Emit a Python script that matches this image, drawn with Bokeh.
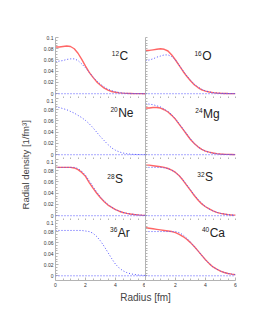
import math
from bokeh.plotting import figure
from bokeh.layouts import row, column
from bokeh.models import Range1d, FixedTicker, Span, Label
from bokeh.core.properties import value
from bokeh.embed import file_html
from bokeh.resources import INLINE

# ---------------- data ----------------
radius = [0.0, 0.25, 0.5, 0.75, 1.0, 1.25, 1.5, 1.75, 2.0, 2.25, 2.5, 2.75, 3.0,
          3.25, 3.5, 3.75, 4.0, 4.25, 4.5, 4.75, 5.0, 5.25, 5.5, 5.75, 6.0]

mass_numbers = ["12", "16", "20", "24", "28", "32", "36", "40"]
elements = ["C", "O", "Ne", "Mg", "S", "S", "Ar", "Ca"]

c12_red = [0.083, 0.083, 0.084, 0.085, 0.084, 0.080, 0.072, 0.061, 0.049, 0.038, 0.029, 0.021, 0.015,
           0.010, 0.0065, 0.004, 0.0025, 0.0015, 0.001, 0.0006, 0.0004, 0.0002, 0.0001, 0.0001, 0.0]
c12_blue = [0.057, 0.058, 0.059, 0.061, 0.062, 0.062, 0.059, 0.053, 0.046, 0.038, 0.030, 0.023, 0.017,
            0.012, 0.008, 0.0055, 0.0035, 0.0022, 0.0014, 0.0009, 0.0005, 0.0003, 0.0002, 0.0001, 0.0]

o16_red = [0.077, 0.077, 0.078, 0.079, 0.080, 0.079, 0.076, 0.069, 0.060, 0.050, 0.040, 0.031, 0.023,
           0.016, 0.011, 0.007, 0.0045, 0.003, 0.002, 0.0013, 0.0008, 0.0005, 0.0003, 0.0002, 0.0001]
o16_blue = [0.059, 0.060, 0.062, 0.065, 0.067, 0.069, 0.069, 0.066, 0.060, 0.051, 0.041, 0.032, 0.024,
            0.017, 0.012, 0.008, 0.005, 0.0032, 0.002, 0.0013, 0.0008, 0.0005, 0.0003, 0.0002, 0.0001]

ne20_blue = [0.085, 0.084, 0.082, 0.080, 0.077, 0.074, 0.070, 0.066, 0.061, 0.055, 0.048, 0.040, 0.032,
             0.025, 0.018, 0.012, 0.008, 0.005, 0.003, 0.0018, 0.001, 0.0006, 0.0003, 0.0002, 0.0001]

mg24_red = [0.083, 0.083, 0.084, 0.084, 0.083, 0.080, 0.076, 0.070, 0.063, 0.054, 0.045, 0.036, 0.027,
            0.020, 0.014, 0.0095, 0.0065, 0.0045, 0.003, 0.002, 0.0014, 0.0009, 0.0006, 0.0004, 0.0002]
mg24_blue = [0.091, 0.090, 0.089, 0.087, 0.085, 0.081, 0.077, 0.071, 0.064, 0.055, 0.046, 0.037, 0.028,
             0.020, 0.014, 0.0095, 0.0062, 0.004, 0.0026, 0.0016, 0.001, 0.0006, 0.0004, 0.0002, 0.0001]

s28_red = [0.086, 0.086, 0.086, 0.086, 0.086, 0.085, 0.082, 0.077, 0.070, 0.059, 0.049, 0.040, 0.032,
           0.025, 0.019, 0.015, 0.011, 0.008, 0.0058, 0.0042, 0.003, 0.0021, 0.0015, 0.001, 0.0006]
s28_blue = [0.086, 0.086, 0.086, 0.086, 0.086, 0.086, 0.084, 0.079, 0.072, 0.062, 0.052, 0.042, 0.033,
            0.026, 0.020, 0.015, 0.011, 0.008, 0.0058, 0.0042, 0.003, 0.0021, 0.0015, 0.001, 0.0006]

s32_red = [0.090, 0.090, 0.089, 0.088, 0.087, 0.086, 0.084, 0.081, 0.077, 0.071, 0.063, 0.054, 0.045,
           0.036, 0.028, 0.021, 0.016, 0.012, 0.0085, 0.006, 0.0042, 0.003, 0.002, 0.0014, 0.001]
s32_blue = [0.086, 0.086, 0.086, 0.086, 0.086, 0.085, 0.084, 0.081, 0.077, 0.071, 0.064, 0.055, 0.046,
            0.037, 0.029, 0.022, 0.016, 0.012, 0.0085, 0.006, 0.0042, 0.003, 0.002, 0.0014, 0.001]

ar36_blue = [0.082, 0.082, 0.082, 0.082, 0.082, 0.082, 0.082, 0.082, 0.081, 0.080, 0.077, 0.071, 0.063,
             0.053, 0.042, 0.031, 0.021, 0.014, 0.009, 0.0058, 0.0037, 0.0024, 0.0015, 0.001, 0.0006]

ca40_red = [0.087, 0.086, 0.085, 0.084, 0.083, 0.082, 0.081, 0.080, 0.078, 0.075, 0.071, 0.066, 0.060,
            0.053, 0.045, 0.037, 0.029, 0.022, 0.016, 0.012, 0.0085, 0.006, 0.0042, 0.003, 0.002]
ca40_blue = [0.080, 0.080, 0.080, 0.080, 0.080, 0.080, 0.080, 0.080, 0.080, 0.078, 0.074, 0.068, 0.061,
             0.053, 0.045, 0.037, 0.029, 0.022, 0.016, 0.012, 0.0085, 0.006, 0.0042, 0.003, 0.002]

red_series = [c12_red, o16_red, None, mg24_red, s28_red, s32_red, None, ca40_red]
blue_series = [c12_blue, o16_blue, ne20_blue, mg24_blue, s28_blue, s32_blue, ar36_blue, ca40_blue]

x_ticks = [0, 2, 4, 6]
x_tick_labels = ["0", "2", "4", "6"]
x_minor = [0.5, 1, 1.5, 2.5, 3, 3.5, 4.5, 5, 5.5]
y_ticks = [0, 0.02, 0.04, 0.06, 0.08, 0.1]
y_tick_labels = ["0", "0.02", "0.04", "0.06", "0.08", "0.1"]
y_minor = [0.005, 0.01, 0.015, 0.025, 0.03, 0.035, 0.045, 0.05, 0.055,
           0.065, 0.07, 0.075, 0.085, 0.09, 0.095]

# label positions (data coords of right edge / middle)
label_x = [4.85, 4.4, 5.2, 4.95, 4.5, 4.5, 4.95, 5.3]
label_y = [0.067, 0.067, 0.075, 0.073, 0.065, 0.068, 0.078, 0.078]

FONT = "Liberation Sans"
AXIS_COLOR = "#b4b4b4"
RED = "#ff4040"
BLUE = "#5050ff"
ELEM_SIZE = 12
# approximate advance widths (em) of Liberation Sans glyphs, for placing the superscript
EM_WIDTH = {"C": 0.722, "O": 0.778, "N": 0.722, "e": 0.556, "M": 0.833, "g": 0.556,
            "S": 0.667, "A": 0.667, "r": 0.333, "a": 0.556}


def style_axis(ax, show_labels, major, minor, overrides):
    ax.axis_line_color = AXIS_COLOR
    ax.axis_line_width = 1
    ax.major_tick_line_color = AXIS_COLOR
    ax.minor_tick_line_color = AXIS_COLOR
    ax.major_tick_in = 3
    ax.major_tick_out = 0
    ax.minor_tick_in = 2
    ax.minor_tick_out = 0
    ax.major_label_text_font = FONT
    ax.major_label_text_color = "#333333"
    ax.major_label_text_font_size = "5px"
    ax.major_label_standoff = 2
    if show_labels:
        ax.ticker = FixedTicker(ticks=major, minor_ticks=minor)
        ax.major_label_overrides = overrides
    else:
        # no labelled ticks: all tick marks drawn as (inward) minor ticks
        ax.ticker = FixedTicker(ticks=[], minor_ticks=sorted(major + minor))
        ax.minor_tick_in = 2
        ax.major_label_standoff = 0


def make_panel(i):
    col = i % 2
    rowi = i // 2
    left = col == 0
    top = rowi == 0
    bottom = rowi == 3
    mbl = 21 if left else 0
    mbr = 0 if left else 2
    mbt = 37 if top else 0
    mbb = 8 if bottom else 0
    p = figure(width=mbl + 90 + mbr, height=mbt + 61 + mbb,
               x_range=Range1d(0, 6), y_range=Range1d(-0.0085, 0.1),
               output_backend="svg", toolbar_location=None,
               min_border_left=mbl, min_border_right=mbr,
               min_border_top=mbt, min_border_bottom=mbb)
    p.outline_line_color = None
    p.grid.visible = False
    if left:
        xmaj = list(x_ticks)
        xmin = list(x_minor)
    else:
        xmaj = x_ticks[1:]
        xmin = x_ticks[:1] + x_minor
    style_axis(p.xaxis[0], bottom, xmaj, xmin, dict(zip(x_ticks, x_tick_labels)))
    style_axis(p.yaxis[0], left, list(y_ticks), list(y_minor), dict(zip(y_ticks, y_tick_labels)))

    p.add_layout(Span(location=0, dimension="width", line_color=BLUE,
                      line_dash="1 2", line_width=1))
    if red_series[i] is not None:
        p.line(radius, red_series[i], line_color=RED, line_width=1.4, line_alpha=0.8)
    p.line(radius, blue_series[i], line_color=BLUE, line_width=1, line_dash="1 2")

    ew = sum(EM_WIDTH[ch] for ch in elements[i]) * ELEM_SIZE
    p.text(x=[label_x[i]], y=[label_y[i]], text=[elements[i]],
           text_font=value(FONT), text_font_size=f"{ELEM_SIZE}px", text_color="#222222",
           text_align="right", text_baseline="middle")
    p.text(x=[label_x[i]], y=[label_y[i]], text=[mass_numbers[i]],
           text_font=value(FONT), text_font_size="6.5px", text_color="#222222",
           text_align="right", text_baseline="middle", x_offset=-ew - 0.5, y_offset=-3)
    return p


panels = [make_panel(i) for i in range(8)]

ylab_h = 37 + 61 * 4 + 8
ylab = figure(width=34, height=ylab_h, x_range=Range1d(0, 1), y_range=Range1d(0, 1),
              output_backend="svg", toolbar_location=None, min_border=0)
ylab.axis.visible = False
ylab.grid.visible = False
ylab.outline_line_color = None
ylab.add_layout(Label(x=0.735, y=1 - 163 / ylab_h, text="Radial density  [1/fm³]", angle=math.pi / 2,
                      text_align="center", text_baseline="middle", text_font=FONT,
                      text_font_size="9.5px", text_color="#444444"))

xlab = figure(width=203, height=22, x_range=Range1d(0, 1), y_range=Range1d(0, 1),
              output_backend="svg", toolbar_location=None, min_border=0)
xlab.axis.visible = False
xlab.grid.visible = False
xlab.outline_line_color = None
xlab.add_layout(Label(x=0.547, y=0.64, text="Radius [fm]", text_align="center",
                      text_baseline="middle", text_font=FONT, text_font_size="10px",
                      text_color="#444444"))

layout = row(ylab, column(row(panels[0], panels[1]), row(panels[2], panels[3]),
                          row(panels[4], panels[5]), row(panels[6], panels[7]), xlab))

open("out.html", "w").write(file_html(layout, INLINE))
